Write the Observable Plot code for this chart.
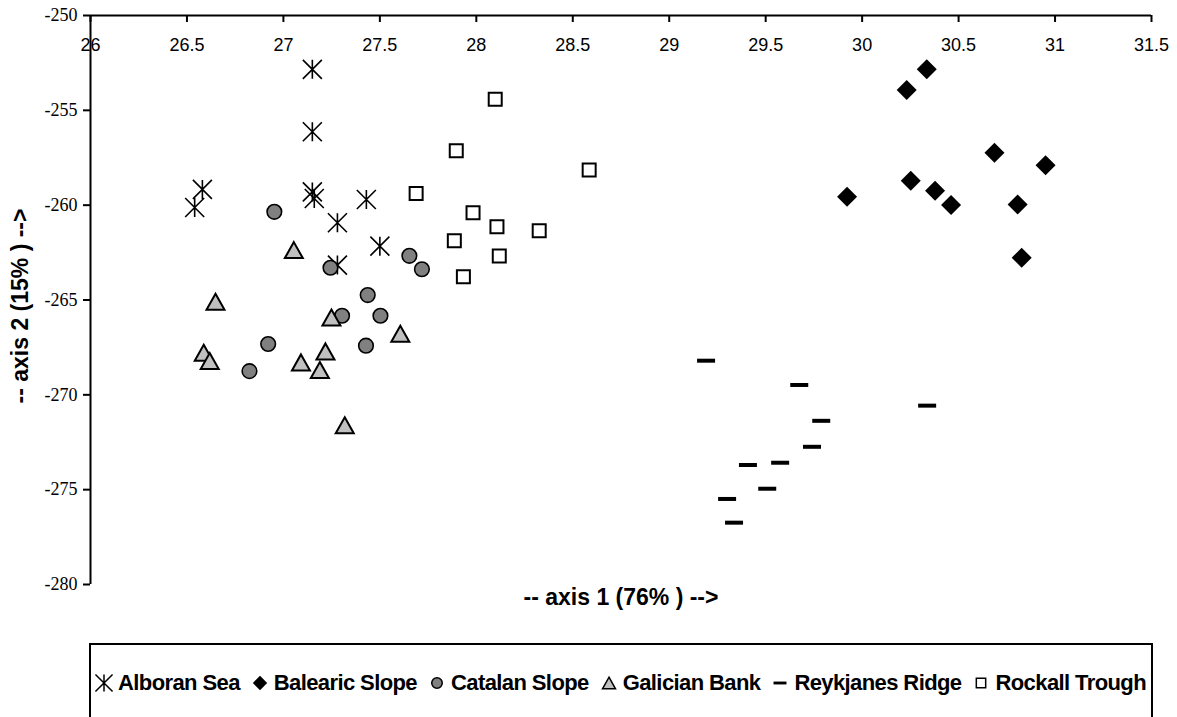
<!DOCTYPE html>
<html><head><meta charset="utf-8">
<script src="https://cdn.jsdelivr.net/npm/d3@7"></script>
<script src="https://cdn.jsdelivr.net/npm/@observablehq/plot@0.6"></script>
<style>
body{margin:0;background:#fff;width:1177px;height:717px;overflow:hidden;position:relative;}
#legend{position:absolute;left:89px;top:643px;width:1064px;height:120px;box-sizing:border-box;border:2px solid #000;}
.row{position:absolute;top:26px;left:4px;display:flex;align-items:center;white-space:nowrap;font:bold 22px "Liberation Sans",Arial,sans-serif;letter-spacing:-0.6px;line-height:24px;}
.item{display:flex;align-items:center;margin-right:11px}
.item svg{margin-right:5px;overflow:visible}
</style></head><body><div id="chart"></div><div id="legend"><div class="row" id="row"></div></div>
<script>
// ---- data ----
const seriesNames = ["Alboran Sea", "Balearic Slope", "Catalan Slope", "Galician Bank", "Reykjanes Ridge", "Rockall Trough"];
const alboranX = [27.15, 27.15, 26.58, 26.54, 27.15, 27.16, 27.43, 27.28, 27.50, 27.28];
const alboranY = [-252.84, -256.13, -259.17, -260.12, -259.3, -259.65, -259.70, -260.93, -262.16, -263.16];
const balearicX = [30.335, 30.231, 30.686, 30.951, 30.252, 30.378, 30.461, 29.922, 30.806, 30.827];
const balearicY = [-252.83, -253.93, -257.24, -257.89, -258.71, -259.24, -259.99, -259.56, -259.96, -262.77];
const catalanX = [26.953, 27.244, 27.437, 27.304, 27.503, 27.653, 27.718, 26.921, 26.824, 27.428];
const catalanY = [-260.35, -263.30, -264.74, -265.83, -265.83, -262.67, -263.38, -267.32, -268.75, -267.41];
const galicianX = [27.054, 26.648, 27.249, 26.587, 26.618, 27.091, 27.218, 27.189, 27.318, 27.606];
const galicianY = [-262.37, -265.09, -265.92, -267.78, -268.22, -268.29, -267.71, -268.69, -271.60, -266.78];
const reykjanesX = [29.191, 29.674, 30.337, 29.788, 29.740, 29.408, 29.575, 29.508, 29.300, 29.336];
const reykjanesY = [-268.20, -269.48, -270.57, -271.37, -272.74, -273.70, -273.58, -274.95, -275.49, -276.74];
const rockallX = [28.098, 27.896, 28.585, 27.688, 27.983, 28.107, 28.326, 27.886, 28.119, 27.933];
const rockallY = [-254.41, -257.13, -258.15, -259.38, -260.40, -261.14, -261.35, -261.88, -262.68, -263.77];
const xTicks = [26, 26.5, 27, 27.5, 28, 28.5, 29, 29.5, 30, 30.5, 31, 31.5];
const yTicks = [-250, -255, -260, -265, -270, -275, -280];
const xTitle = "-- axis 1 (76% ) -->";
const yTitle = "-- axis 2 (15% ) -->";

const pts = (xs, ys) => xs.map((x, i) => ({x, y: ys[i]}));

// ---- custom symbols ----
const sym = (f) => ({draw: (ctx) => f(ctx, 1)});
const asteriskD = (c, s) => { const r = 9.5 * s; c.moveTo(0, -r); c.lineTo(0, r); c.moveTo(-r, -r); c.lineTo(r, r); c.moveTo(-r, r); c.lineTo(r, -r); };
const diamondD = (c, s) => { const r = 10 * s; c.moveTo(0, -r); c.lineTo(r, 0); c.lineTo(0, r); c.lineTo(-r, 0); c.closePath(); };
const triangleD = (c, s) => { c.moveTo(0, -8 * s); c.lineTo(9 * s, 8 * s); c.lineTo(-9 * s, 8 * s); c.closePath(); };
const dashD = (c, s) => { c.rect(-9 * s, -2 * s, 18 * s, 4 * s); };
const squareD = (c, s) => { const h = 6.5 * s; c.rect(-h, -h, 2 * h, 2 * h); };
const circleD = (c, s) => { const r = 7.3 * s; c.moveTo(r, 0); c.arc(0, 0, r, 0, 2 * Math.PI); };

const styles = [
  {d: asteriskD, fill: "none", stroke: "black", sw: 1.6},
  {d: diamondD, fill: "black", stroke: "none", sw: 0},
  {d: circleD, fill: "#808080", stroke: "black", sw: 1.6},
  {d: triangleD, fill: "#c0c0c0", stroke: "black", sw: 2},
  {d: dashD, fill: "black", stroke: "none", sw: 0},
  {d: squareD, fill: "white", stroke: "black", sw: 2}
];
const data = [pts(alboranX, alboranY), pts(balearicX, balearicY), pts(catalanX, catalanY),
              pts(galicianX, galicianY), pts(reykjanesX, reykjanesY), pts(rockallX, rockallY)];

const serif = "Liberation Serif, Times New Roman, serif";
const sans = "Liberation Sans, Arial, sans-serif";

const chart = Plot.plot({
  width: 1177, height: 640,
  marginLeft: 90, marginRight: 26, marginTop: 15, marginBottom: 56,
  x: {domain: [26, 31.5], axis: null},
  y: {domain: [-280, -250], axis: null},
  style: {background: "white", overflow: "visible", color: "black"},
  marks: [
    Plot.ruleY([-250], {stroke: "black", strokeWidth: 2}),
    Plot.ruleX([26], {stroke: "black", strokeWidth: 2}),
    Plot.axisX(xTicks, {anchor: "bottom", frameAnchor: "top", label: null, tickSize: 7, tickPadding: 16, strokeWidth: 2,
      fontSize: 18, fontFamily: sans, tickFormat: d => String(d), letterSpacing: 0.5}),
    Plot.axisY(yTicks, {anchor: "left", label: null, tickSize: 7, tickPadding: 6, strokeWidth: 2,
      fontSize: 18, fontFamily: serif, tickFormat: d => String(d)}),
    ...data.map((d, i) => Plot.dot(d, {x: "x", y: "y", symbol: sym(styles[i].d), r: 5,
      fill: styles[i].fill, stroke: styles[i].stroke, strokeWidth: styles[i].sw})),
    Plot.text([xTitle], {frameAnchor: "bottom", dy: 13, lineAnchor: "middle", textAnchor: "middle", fontSize: 23, fontWeight: "bold", fontFamily: sans, letterSpacing: 1}),
    Plot.text([yTitle], {frameAnchor: "left", dx: -70, dy: 6, lineAnchor: "middle", textAnchor: "middle", rotate: -90, fontSize: 23, fontWeight: "bold", fontFamily: sans, letterSpacing: 1})
  ]
});
// make sure the y tick labels use the serif face as in the reference
d3.select(chart).selectAll('g[aria-label="y-axis tick label"], g[aria-label="y-axis tick label"] text')
  .attr("font-family", serif).style("font-family", serif);
document.getElementById("chart").append(chart);

// ---- legend ----
const row = document.getElementById("row");
seriesNames.forEach((name, i) => {
  const st = styles[i];
  const s = i === 0 ? 0.9 : 0.72;
  const p = d3.path(); st.d(p, s);
  const item = document.createElement("div"); item.className = "item";
  item.innerHTML = `<svg width="18" height="20" viewBox="-9 -10 18 20"><path d="${p.toString()}" fill="${st.fill}" stroke="${st.stroke}" stroke-width="${st.sw ? 1.5 : 0}"/></svg><span>${name}</span>`;
  row.append(item);
});
</script></body></html>
